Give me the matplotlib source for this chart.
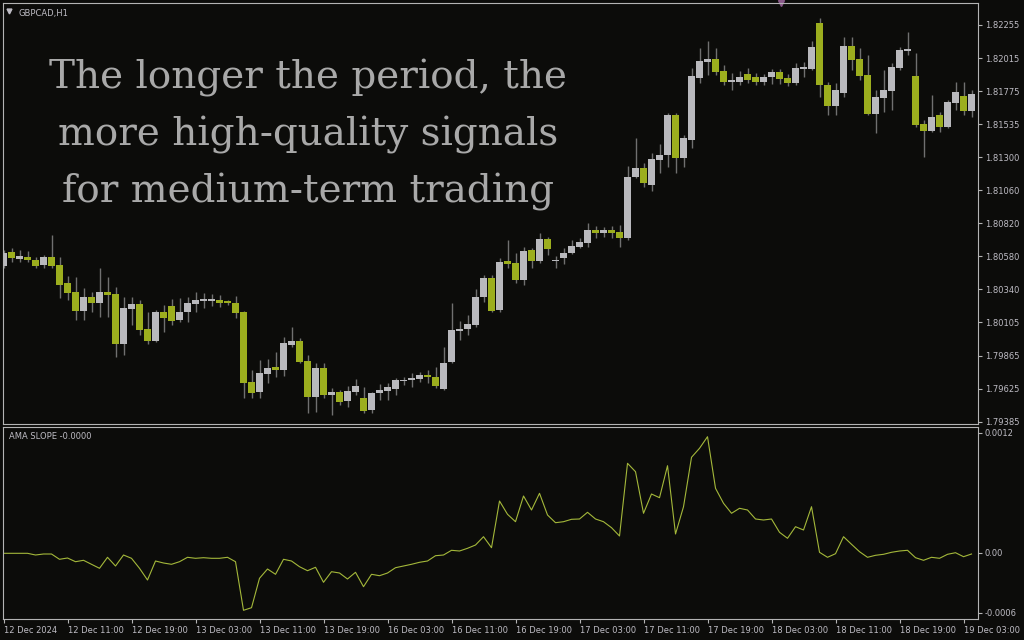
import numpy as np
import matplotlib
matplotlib.use("Agg")
import matplotlib.pyplot as plt

# GBPCAD H1 candles
opens = [1.80511, 1.80613, 1.80562, 1.80577, 1.80555, 1.80519, 1.80577, 1.80519, 1.80389, 1.80323,
         1.80186, 1.80287, 1.80244, 1.80323, 1.80309, 1.79947, 1.80200, 1.80237, 1.80056, 1.79969,
         1.80179, 1.80222, 1.80121, 1.80179, 1.80237, 1.80258, 1.80258, 1.80265, 1.80258, 1.80244,
         1.80179, 1.79672, 1.79600, 1.79730, 1.79781, 1.79759, 1.79940, 1.79969, 1.79824, 1.79564,
         1.79774, 1.79578, 1.79600, 1.79535, 1.79600, 1.79556, 1.79470, 1.79593, 1.79607, 1.79622,
         1.79679, 1.79687, 1.79694, 1.79723, 1.79708, 1.79622, 1.79817, 1.80041, 1.80056, 1.80085,
         1.80287, 1.80425, 1.80193, 1.80548, 1.80533, 1.80410, 1.80627, 1.80548, 1.80707, 1.80548,
         1.80569, 1.80605, 1.80649, 1.80678, 1.80772, 1.80750, 1.80772, 1.80758, 1.80714, 1.81155,
         1.81221, 1.81098, 1.81278, 1.81315, 1.81604, 1.81293, 1.81423, 1.81872, 1.81987, 1.82009,
         1.81922, 1.81843, 1.81843, 1.81901, 1.81879, 1.81843, 1.81879, 1.81915, 1.81872, 1.81835,
         1.81937, 1.81937, 1.82270, 1.81821, 1.81669, 1.81763, 1.82103, 1.82009, 1.81893, 1.81611,
         1.81727, 1.81778, 1.81944, 1.82067, 1.81886, 1.81539, 1.81488, 1.81604, 1.81517, 1.81691,
         1.81741, 1.81633]
highs = [1.80627, 1.80642, 1.80627, 1.80620, 1.80577, 1.80591, 1.80736, 1.80577, 1.80439, 1.80432,
         1.80352, 1.80323, 1.80497, 1.80432, 1.80360, 1.80287, 1.80287, 1.80265, 1.80179, 1.80193,
         1.80229, 1.80273, 1.80280, 1.80287, 1.80323, 1.80316, 1.80309, 1.80302, 1.80265, 1.80294,
         1.80186, 1.79759, 1.79831, 1.79839, 1.79889, 1.79998, 1.80070, 1.79991, 1.79868, 1.79810,
         1.79810, 1.79629, 1.79614, 1.79643, 1.79694, 1.79636, 1.79600, 1.79658, 1.79665, 1.79701,
         1.79708, 1.79737, 1.79745, 1.79759, 1.79781, 1.79925, 1.80244, 1.80114, 1.80157, 1.80345,
         1.80446, 1.80446, 1.80569, 1.80700, 1.80605, 1.80649, 1.80642, 1.80750, 1.80721, 1.80584,
         1.80642, 1.80700, 1.80714, 1.80823, 1.80801, 1.80794, 1.80801, 1.80808, 1.81235, 1.81438,
         1.81257, 1.81329, 1.81394, 1.81618, 1.81618, 1.81459, 1.81944, 1.82089, 1.82139, 1.82089,
         1.81966, 1.81908, 1.81922, 1.81944, 1.81908, 1.81901, 1.81937, 1.81937, 1.81901, 1.81980,
         1.81987, 1.82139, 1.82306, 1.81843, 1.81835, 1.82168, 1.82168, 1.82089, 1.82038, 1.81785,
         1.81930, 1.81980, 1.82096, 1.82205, 1.82053, 1.81568, 1.81749, 1.81626, 1.81712, 1.81843,
         1.81843, 1.81785]
lows = [1.80497, 1.80540, 1.80540, 1.80540, 1.80497, 1.80497, 1.80497, 1.80280, 1.80265, 1.80121,
        1.80121, 1.80179, 1.80142, 1.80142, 1.79853, 1.79868, 1.80085, 1.80012, 1.79947, 1.79962,
        1.80034, 1.80085, 1.80106, 1.80106, 1.80179, 1.80208, 1.80222, 1.80215, 1.80229, 1.80135,
        1.79556, 1.79556, 1.79556, 1.79665, 1.79708, 1.79716, 1.79925, 1.79810, 1.79448, 1.79455,
        1.79556, 1.79434, 1.79506, 1.79491, 1.79578, 1.79448, 1.79448, 1.79542, 1.79542, 1.79578,
        1.79650, 1.79636, 1.79672, 1.79665, 1.79629, 1.79614, 1.79810, 1.79976, 1.80012, 1.80070,
        1.80251, 1.80179, 1.80179, 1.80497, 1.80389, 1.80374, 1.80497, 1.80533, 1.80591, 1.80497,
        1.80526, 1.80598, 1.80642, 1.80649, 1.80714, 1.80721, 1.80714, 1.80649, 1.80700, 1.81148,
        1.81083, 1.81054, 1.81184, 1.81228, 1.81184, 1.81228, 1.81365, 1.81835, 1.81893, 1.81893,
        1.81821, 1.81785, 1.81821, 1.81835, 1.81821, 1.81821, 1.81828, 1.81828, 1.81814, 1.81821,
        1.81879, 1.81930, 1.81734, 1.81604, 1.81604, 1.81734, 1.81930, 1.81857, 1.81604, 1.81474,
        1.81626, 1.81640, 1.81930, 1.82038, 1.81517, 1.81300, 1.81481, 1.81481, 1.81510, 1.81640,
        1.81604, 1.81589]
closes = [1.80605, 1.80569, 1.80584, 1.80555, 1.80511, 1.80577, 1.80511, 1.80374, 1.80316, 1.80186,
          1.80287, 1.80244, 1.80323, 1.80302, 1.79947, 1.80208, 1.80237, 1.80048, 1.79969, 1.80179,
          1.80135, 1.80114, 1.80179, 1.80244, 1.80265, 1.80273, 1.80273, 1.80244, 1.80244, 1.80171,
          1.79665, 1.79593, 1.79737, 1.79774, 1.79759, 1.79954, 1.79969, 1.79817, 1.79564, 1.79774,
          1.79578, 1.79600, 1.79528, 1.79607, 1.79643, 1.79462, 1.79593, 1.79614, 1.79636, 1.79687,
          1.79687, 1.79701, 1.79723, 1.79708, 1.79643, 1.79810, 1.80048, 1.80056, 1.80092, 1.80287,
          1.80425, 1.80186, 1.80540, 1.80526, 1.80410, 1.80620, 1.80548, 1.80707, 1.80634, 1.80555,
          1.80605, 1.80656, 1.80685, 1.80772, 1.80750, 1.80772, 1.80750, 1.80714, 1.81155, 1.81221,
          1.81112, 1.81286, 1.81315, 1.81604, 1.81293, 1.81438, 1.81886, 1.81995, 1.82009, 1.81915,
          1.81843, 1.81857, 1.81879, 1.81857, 1.81843, 1.81879, 1.81915, 1.81864, 1.81835, 1.81944,
          1.81951, 1.82096, 1.81821, 1.81669, 1.81785, 1.82103, 1.82002, 1.81886, 1.81611, 1.81734,
          1.81785, 1.81951, 1.82074, 1.82081, 1.81532, 1.81488, 1.81589, 1.81517, 1.81698, 1.81770,
          1.81633, 1.81756]

# AMA slope indicator, one value per bar
slope = [-0.000003, -0.000003, -0.000003, -0.000003, -0.000020, -0.000010, -0.000010, -0.000063,
         -0.000050, -0.000087, -0.000073, -0.000113, -0.000153, -0.000043, -0.000130, -0.000020,
         -0.000053, -0.000153, -0.000270, -0.000080, -0.000100, -0.000113, -0.000087, -0.000043,
         -0.000053, -0.000047, -0.000053, -0.000053, -0.000043, -0.000087, -0.000573, -0.000547,
         -0.000253, -0.000160, -0.000213, -0.000063, -0.000080, -0.000137, -0.000177, -0.000143,
         -0.000293, -0.000187, -0.000200, -0.000260, -0.000193, -0.000337, -0.000213, -0.000227,
         -0.000200, -0.000147, -0.000130, -0.000113, -0.000093, -0.000080, -0.000027, -0.000020,
         0.000027, 0.000020, 0.000047, 0.000080, 0.000163, 0.000053, 0.000520, 0.000387,
         0.000313, 0.000570, 0.000430, 0.000597, 0.000380, 0.000303, 0.000313, 0.000337,
         0.000340, 0.000407, 0.000340, 0.000313, 0.000253, 0.000170, 0.000897, 0.000813,
         0.000397, 0.000590, 0.000553, 0.000873, 0.000190, 0.000463, 0.000957, 0.001047,
         0.001163, 0.000647, 0.000497, 0.000397, 0.000447, 0.000430, 0.000340, 0.000330,
         0.000340, 0.000207, 0.000147, 0.000263, 0.000230, 0.000463, 0.000007, -0.000043,
         -0.000007, 0.000163, 0.000087, 0.000013, -0.000043, -0.000023, -0.000013, 0.000007,
         0.000020, 0.000027, -0.000047, -0.000073, -0.000043, -0.000053, -0.000013, 0.000003,
         -0.000037, -0.000010]

price_ticks = ["1.82255", "1.82015", "1.81775", "1.81535", "1.81300", "1.81060", "1.80820",
               "1.80580", "1.80340", "1.80105", "1.79865", "1.79625", "1.79385"]
time_ticks = ["12 Dec 2024", "12 Dec 11:00", "12 Dec 19:00", "13 Dec 03:00", "13 Dec 11:00",
              "13 Dec 19:00", "16 Dec 03:00", "16 Dec 11:00", "16 Dec 19:00", "17 Dec 03:00",
              "17 Dec 11:00", "17 Dec 19:00", "18 Dec 03:00", "18 Dec 11:00", "18 Dec 19:00",
              "19 Dec 03:00"]
headline = "The longer the period, the\nmore high-quality signals\nfor medium-term trading"

BG = "#0c0c0a"
FRAME = "#b4b4b4"
TXT = "#bebcc4"
BULL = "#b9b9bd"
BEAR = "#9cae1e"
WICK = "#707070"


def draw_candles(ax):
    x = np.arange(len(opens))
    o = np.array(opens)
    c = np.array(closes)
    h = np.array(highs)
    l = np.array(lows)
    up = c >= o
    ax.vlines(x, l, h, color=WICK, linewidth=1.0, zorder=1)
    bottom = np.minimum(o, c)
    height = np.maximum(np.abs(c - o), 0.00007)
    colors = [BULL if u else BEAR for u in up]
    ax.bar(x, height, bottom=bottom, width=0.8, color=colors, linewidth=0, zorder=2)


def main():
    fig = plt.figure(figsize=(10.24, 6.4), dpi=100, facecolor=BG)
    ax = fig.add_axes([3 / 1024, 1 - 424 / 640, 975 / 1024, 421 / 640], facecolor=BG)
    ax2 = fig.add_axes([3 / 1024, 1 - 619 / 640, 975 / 1024, 192 / 640], facecolor=BG)

    draw_candles(ax)
    ax.set_xlim(-0.0625, 121.81)
    ax.set_ylim(1.79368, 1.82414)
    step = (1.82255 - 1.79385) / 12
    ax.set_yticks([1.82255 - k * step for k in range(13)])
    ax.set_yticklabels(price_ticks)
    ax.yaxis.tick_right()
    ax.set_xticks([])

    ax2.plot(np.arange(len(slope)), slope, color="#a4b83a", linewidth=0.8)
    ax2.set_xlim(-0.0625, 121.81)
    ax2.set_ylim(-0.00066, 0.00126)
    ax2.set_yticks([0.0012, 0.0, -0.0006])
    ax2.set_yticklabels(["0.0012", "0.00", "-0.0006"])
    ax2.yaxis.tick_right()
    ax2.set_xticks(np.arange(len(time_ticks)) * 8)
    ax2.set_xticklabels(time_ticks)
    for lab in ax2.get_xticklabels():
        lab.set_ha("left")

    for a in (ax, ax2):
        for s in a.spines.values():
            s.set_color(FRAME)
            s.set_linewidth(0.8)
        a.tick_params(colors=FRAME, labelcolor=TXT, labelsize=6, length=3, width=0.8,
                      direction="out", pad=2)

    ax.text(0.016, 0.985, "GBPCAD,H1", transform=ax.transAxes, color=TXT, fontsize=6,
            va="top", ha="left")
    ax.plot([0.006], [0.981], marker="v", markersize=3.5, color=TXT, transform=ax.transAxes)
    ax2.text(0.006, 0.975, "AMA SLOPE -0.0000", transform=ax2.transAxes, color=TXT,
             fontsize=6, va="top", ha="left")
    # small marker on the top edge
    ax.plot([97.2], [1.0], marker="v", markersize=5, color="#8a5a8a", clip_on=False,
            transform=ax.get_xaxis_transform())

    ax.text(305 / 975, 1 - 132 / 421, headline, transform=ax.transAxes, ha="center",
            va="center", color="#a9a9a9", fontsize=28, family="DejaVu Serif",
            linespacing=1.66)

    fig.savefig("out.png", dpi=100, facecolor=BG)


if __name__ == '__main__':
    main()
